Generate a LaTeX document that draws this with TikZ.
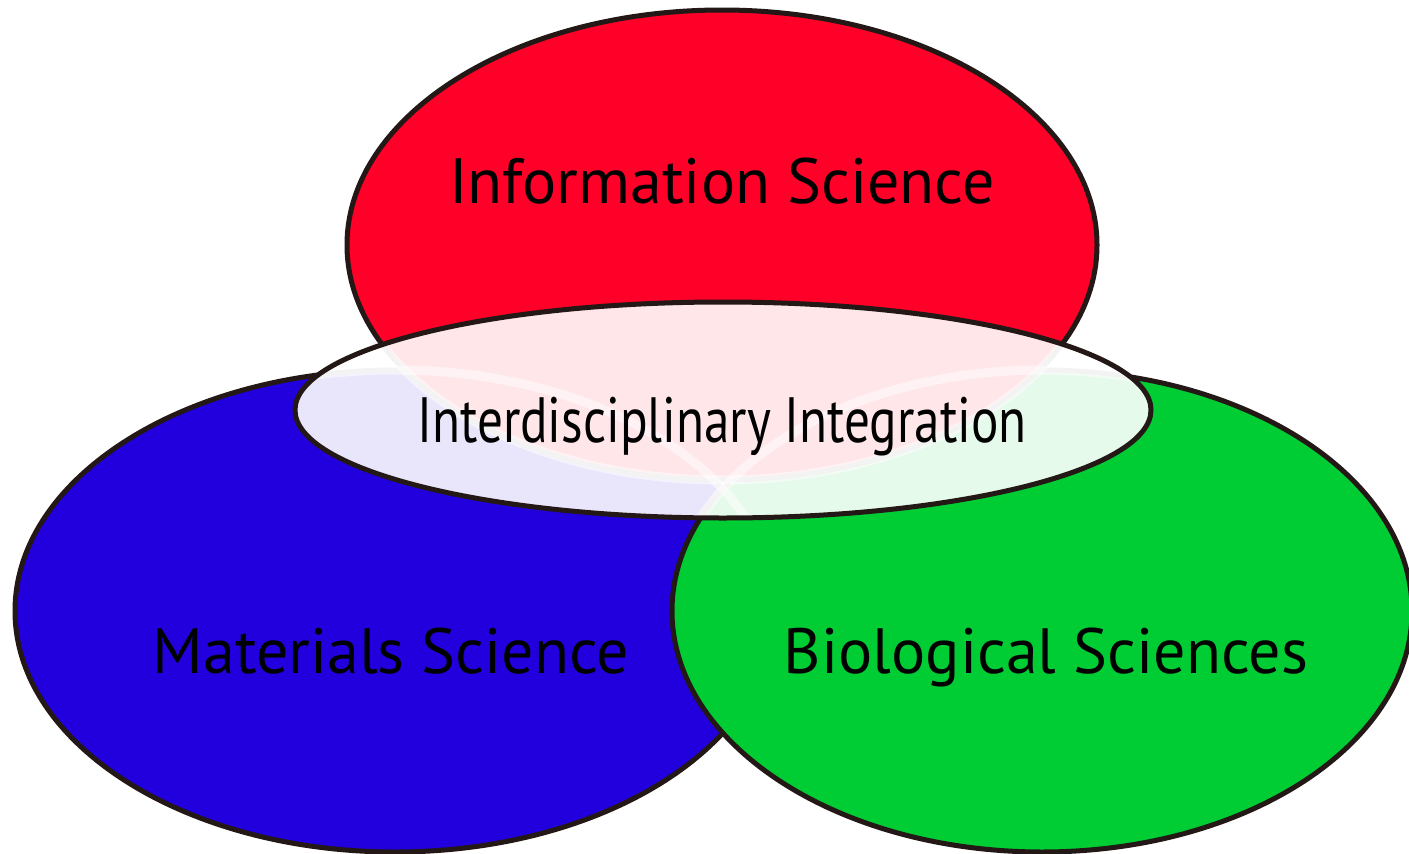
\documentclass[tikz,border=0pt]{standalone}
\usepackage{fontspec}
\setmainfont{PT Sans}
\definecolor{infored}{HTML}{FF0028}
\definecolor{matblue}{HTML}{2200DD}
\definecolor{biogreen}{HTML}{00CC33}
\definecolor{rim}{HTML}{231815}

\begin{document}
\begin{tikzpicture}[x=1pt, y=-1pt, line width=5pt,
    every node/.style={font=\fontsize{64}{70}\selectfont, anchor=base, inner sep=0pt}]
  \useasboundingbox (0,0) rectangle (1409,854);
  % the three fields
  \foreach \cx/\cy/\rx/\ry/\col in {395/611/380/241/matblue, 1042/611/370/241/biogreen, 722/245/375/235/infored} {
    \filldraw[fill=\col, draw=rim] (\cx,\cy) ellipse [x radius=\rx, y radius=\ry];
  }
  % overlap region
  \fill[white, fill opacity=0.9] (723,410) ellipse [x radius=428, y radius=108];
  \begin{scope}
    \clip (723,410) ellipse [x radius=428, y radius=108];
    \foreach \cx/\cy/\rx/\ry in {395/611/380/241, 1042/611/370/241, 722/245/375/235} {
      \draw[white, opacity=0.5, line width=9pt] (\cx,\cy) ellipse [x radius=\rx, y radius=\ry];
    }
  \end{scope}
  \draw[rim] (723,410) ellipse [x radius=428, y radius=108];
  % labels
  \node (info) at (722,203) {Information Science};
  \node[xscale=0.8] (inter) at (722,442) {Interdisciplinary Integration};
  \node (mat) at (391,673) {Materials Science};
  \node (bio) at (1046,673) {Biological Sciences};
\end{tikzpicture}
\end{document}
